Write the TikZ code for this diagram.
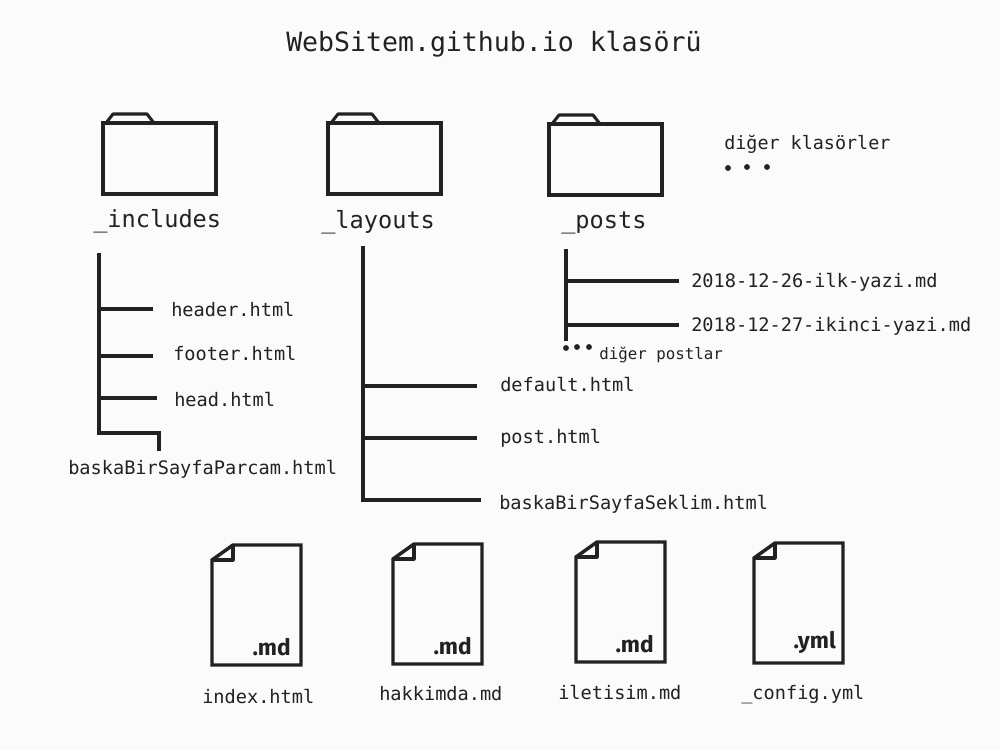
\documentclass[tikz,border=0pt]{standalone}
\usepackage{fontspec}
\setmonofont{DejaVu Sans Mono}
\newfontfamily\extfont{Fira Sans}
\definecolor{ink}{HTML}{222222}
\definecolor{paper}{HTML}{FBFBFB}
\tikzset{
  x=0.75pt,y=-0.75pt,
  shapeline/.style={draw=ink,line width=2.6pt,line join=miter},
  tabline/.style={draw=ink,line width=2.3pt,line join=round},
  conn/.style={draw=ink,line width=2.3pt,line join=miter},
  txt/.style={anchor=base west,inner sep=0pt,text=ink,font=\ttfamily},
  big/.style={txt,font=\ttfamily\fontsize{17.7pt}{20pt}\selectfont},
  title/.style={txt,font=\ttfamily\fontsize{19.9pt}{22pt}\selectfont},
  file/.style={txt,font=\ttfamily\fontsize{13.95pt}{16pt}\selectfont},
  mid/.style={txt,font=\ttfamily\fontsize{13.8pt}{15pt}\selectfont},
  small/.style={txt,font=\ttfamily\fontsize{11.85pt}{13pt}\selectfont},
  ext/.style={anchor=base east,inner sep=0pt,text=ink,font=\extfont\bfseries\fontsize{17pt}{20pt}\selectfont},
  dotmark/.style={fill=ink,draw=none,circle,inner sep=0pt,minimum size=4.4pt},
}
\newcommand{\folder}[3]{% x y name
  \draw[tabline] (#1+3,#2) -- (#1+10,#2-9) -- (#1+44,#2-9) -- (#1+51,#2);
  \node[shapeline,fill=paper,rectangle,inner sep=0pt,minimum width=84.75pt,minimum height=53.25pt] (#3) at (#1+56.5,#2+35.5) {};
}
\newcommand{\doc}[3]{% x y name
  \draw[shapeline] (#1,#2+15) -- (#1+21,#2) -- (#1+89,#2) -- (#1+89,#2+120) -- (#1,#2+120) -- cycle;
  \draw[tabline] (#1,#2+15) -- (#1+21,#2+15) -- (#1+21,#2);
  \coordinate (#3) at (#1,#2);
}
\begin{document}
\begin{tikzpicture}
\useasboundingbox (0,0) rectangle (1000,750);
\fill[paper] (0,0) rectangle (1000,750);

\node[title] (ttl) at (286,51) {WebSitem.github.io klasörü};

\folder{103}{123}{fa}
\folder{328}{123}{fb}
\folder{549}{124}{fc}
\node[big] (la) at (93,227) {\_includes};
\node[big] (lb) at (321,228) {\_layouts};
\node[big] (lc) at (561,228) {\_posts};

\node[mid] (other) at (724,149) {diğer klasörler};
\node[dotmark] (od1) at (728,168) {};
\node[dotmark] (od2) at (747,167) {};
\node[dotmark] (od3) at (767,167) {};

% _includes tree
\node[file] (t1) at (171,316) {header.html};
\node[file] (t2) at (173,360) {footer.html};
\node[file] (t3) at (174,406) {head.html};
\node[file] (t4) at (68,474) {baskaBirSayfaParcam.html};
\coordinate (a0) at (99,253);
\coordinate (a1) at (99,309);
\coordinate (a2) at (99,356);
\coordinate (a3) at (99,398);
\coordinate (a4) at (99,433);
\coordinate (a1e) at (153,309);
\coordinate (a2e) at (153,356);
\coordinate (a3e) at (157,398);
\coordinate (a4e) at (159,433);
\coordinate (a5e) at (159,451);
\draw[conn] (a0) -- (a4) -- (a4e) -- (a5e);
\draw[conn] (a1) -- (a1e);
\draw[conn] (a2) -- (a2e);
\draw[conn] (a3) -- (a3e);

% _layouts tree
\node[file] (u1) at (500,391) {default.html};
\node[file] (u2) at (500,443) {post.html};
\node[file] (u3) at (499,509) {baskaBirSayfaSeklim.html};
\coordinate (b0) at (363,246);
\coordinate (b1) at (363,386);
\coordinate (b2) at (363,438);
\coordinate (b3) at (363,500);
\coordinate (b1e) at (477,386);
\coordinate (b2e) at (477,438);
\coordinate (b3e) at (481,500);
\draw[conn] (b0) -- (b3) -- (b3e);
\draw[conn] (b1) -- (b1e);
\draw[conn] (b2) -- (b2e);

% _posts tree
\node[file] (v1) at (691,287) {2018-12-26-ilk-yazi.md};
\node[file] (v2) at (691,331) {2018-12-27-ikinci-yazi.md};
\node[small] (v3) at (599,359) {diğer postlar};
\coordinate (c0) at (566,249);
\coordinate (c1) at (566,281);
\coordinate (c2) at (566,325);
\coordinate (c3) at (566,341);
\coordinate (c1e) at (679,281);
\coordinate (c2e) at (679,325);
\draw[conn] (c0) -- (c3);
\draw[conn] (c1) -- (c1e);
\draw[conn] (c2) -- (c2e);
\node[dotmark] (pd1) at (566,348) {};
\node[dotmark] (pd2) at (577,347) {};
\node[dotmark] (pd3) at (589,347) {};

% files
\doc{212}{545}{d1}
\doc{393}{544}{d2}
\doc{576}{542}{d3}
\doc{754}{543}{d4}
\node[ext] (e1) at (291,655) {.md};
\node[ext] (e2) at (472,654) {.md};
\node[ext] (e3) at (654,652) {.md};
\node[ext] (e4) at (836,648) {.yml};
\node[file] (n1) at (202,703) {index.html};
\node[file] (n2) at (379,700) {hakkimda.md};
\node[file] (n3) at (558,699) {iletisim.md};
\node[file] (n4) at (741,699) {\_config.yml};
\end{tikzpicture}
\end{document}
